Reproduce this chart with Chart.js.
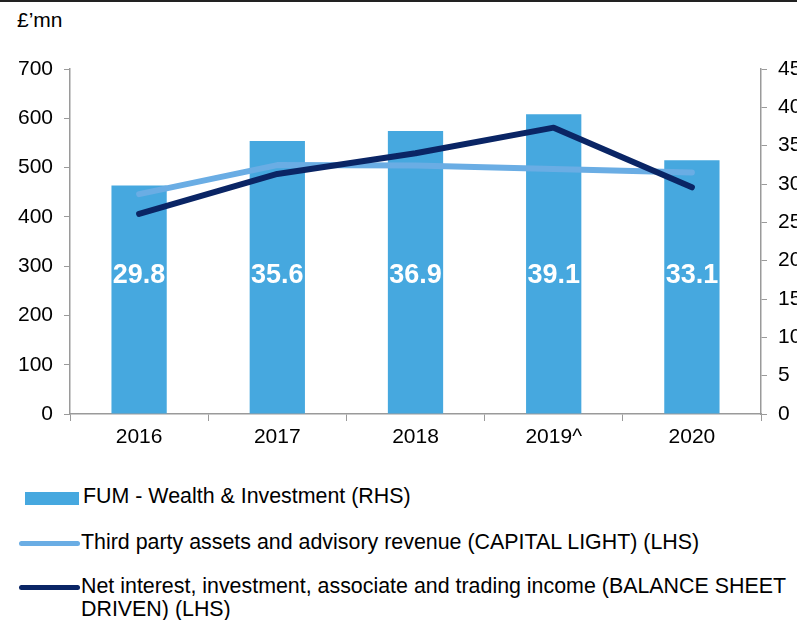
<!DOCTYPE html>
<html>
<head>
<meta charset="utf-8">
<script src="https://cdn.jsdelivr.net/npm/chart.js@4/dist/chart.umd.min.js"></script>
<style>
  html, body { margin: 0; padding: 0; background: #fff; }
  body { width: 797px; height: 620px; position: relative; overflow: hidden; font-family: "Liberation Sans", Arial, sans-serif; color: #000; }
  #topline { position: absolute; left: 0; top: 0; width: 797px; height: 2px; background: #222; }
  #unit { position: absolute; left: 17px; top: 8px; font-size: 21px; }
  #wrap { position: absolute; left: 0; top: 0; width: 797px; height: 470px; }
  .leg { position: absolute; font-size: 21.4px; line-height: 23px; }
  .sw { position: absolute; }
</style>
</head>
<body>
<div id="topline"></div>
<div id="unit">£’mn</div>
<div id="wrap"><canvas id="c" width="797" height="470"></canvas></div>
<div id="legend"></div>
<script>
const categories = ['2016', '2017', '2018', '2019^', '2020'];
const fumValues = [29.8, 35.6, 36.9, 39.1, 33.1];
const capitalLight = [446, 505, 504, 497, 490];
const balanceSheet = [406, 487, 529, 581, 460];
const leftTicks = [0, 100, 200, 300, 400, 500, 600, 700];
const rightTicks = [0, 5, 10, 15, 20, 25, 30, 35, 40, 45];
const seriesNames = [
  'FUM - Wealth & Investment (RHS)',
  'Third party assets and advisory revenue (CAPITAL LIGHT) (LHS)',
  'Net interest, investment, associate and trading income (BALANCE SHEET DRIVEN) (LHS)'
];

const BAR = '#46a8df';
const LIGHT = '#6aade4';
const DARK = '#0a2565';
const AXIS = '#9a9a9a';
const FONT = { family: '"Liberation Sans", Arial, sans-serif', size: 21 };

const labelPlugin = {
  id: 'barLabels',
  afterDatasetsDraw(chart) {
    const meta = chart.getDatasetMeta(2);
    const y1 = chart.scales.y1;
    const ctx = chart.ctx;
    ctx.save();
    ctx.fillStyle = '#ffffff';
    ctx.font = 'bold 27px "Liberation Sans", Arial, sans-serif';
    ctx.textAlign = 'center';
    ctx.textBaseline = 'middle';
    meta.data.forEach((bar, i) => {
      ctx.fillText(fumValues[i].toFixed(1), bar.x, y1.getPixelForValue(18));
    });
    ctx.restore();
  }
};

new Chart(document.getElementById('c'), {
  type: 'bar',
  data: {
    labels: categories,
    datasets: [
      { type: 'line', label: seriesNames[2], data: balanceSheet, yAxisID: 'y', borderColor: DARK, borderWidth: 6, pointRadius: 0, borderCapStyle: 'round', borderJoinStyle: 'round', tension: 0, order: 1 },
      { type: 'line', label: seriesNames[1], data: capitalLight, yAxisID: 'y', borderColor: LIGHT, borderWidth: 6, pointRadius: 0, borderCapStyle: 'round', borderJoinStyle: 'round', tension: 0, order: 2 },
      { type: 'bar', label: seriesNames[0], data: fumValues, yAxisID: 'y1', backgroundColor: BAR, categoryPercentage: 1, barPercentage: 0.4, order: 3 }
    ]
  },
  options: {
    responsive: false,
    animation: false,
    layout: { padding: { top: 69, left: 0, right: 0, bottom: 0 } },
    plugins: { legend: { display: false }, tooltip: { enabled: false } },
    scales: {
      x: {
        grid: { drawOnChartArea: false, drawTicks: true, tickLength: 7, color: AXIS, offset: true },
        border: { display: true, color: AXIS, width: 1.5 },
        ticks: { color: '#000', font: FONT, padding: 4, maxRotation: 0 },
        afterFit(s) { s.height = 56; }
      },
      y: {
        position: 'left',
        min: 0, max: 700,
        afterBuildTicks(s) { s.ticks = leftTicks.map(v => ({ value: v })); },
        grid: { drawOnChartArea: false, drawTicks: true, tickLength: 6, color: AXIS },
        border: { display: true, color: AXIS, width: 1.5 },
        ticks: { color: '#000', font: FONT, padding: 11 },
        afterFit(s) { s.width = 70; }
      },
      y1: {
        position: 'right',
        min: 0, max: 45,
        afterBuildTicks(s) { s.ticks = rightTicks.map(v => ({ value: v })); },
        grid: { drawOnChartArea: false, drawTicks: true, tickLength: 6, color: AXIS },
        border: { display: true, color: AXIS, width: 1.5 },
        ticks: { color: '#000', font: FONT, padding: 11 },
        afterFit(s) { s.width = 36; }
      }
    }
  },
  plugins: [labelPlugin]
});

// HTML legend
const legend = document.getElementById('legend');
const items = [
  { name: seriesNames[0], kind: 'bar', color: BAR, top: 485 },
  { name: seriesNames[1], kind: 'line', color: LIGHT, top: 531 },
  { name: seriesNames[2], kind: 'line', color: DARK, top: 575 }
];
items.forEach(it => {
  const sw = document.createElement('div');
  sw.className = 'sw';
  if (it.kind === 'bar') {
    sw.style.cssText = `left:25px;top:${it.top + 7}px;width:54px;height:13px;background:${it.color};`;
  } else {
    sw.style.cssText = `left:19px;top:${it.top + 10}px;width:61px;height:5px;border-radius:3px;background:${it.color};`;
  }
  legend.appendChild(sw);
  const t = document.createElement('div');
  t.className = 'leg';
  t.style.cssText = `left:${it.kind === 'bar' ? 83 : 81}px;top:${it.top}px;width:714px;`;
  t.textContent = it.name;
  legend.appendChild(t);
});
</script>
</body>
</html>
